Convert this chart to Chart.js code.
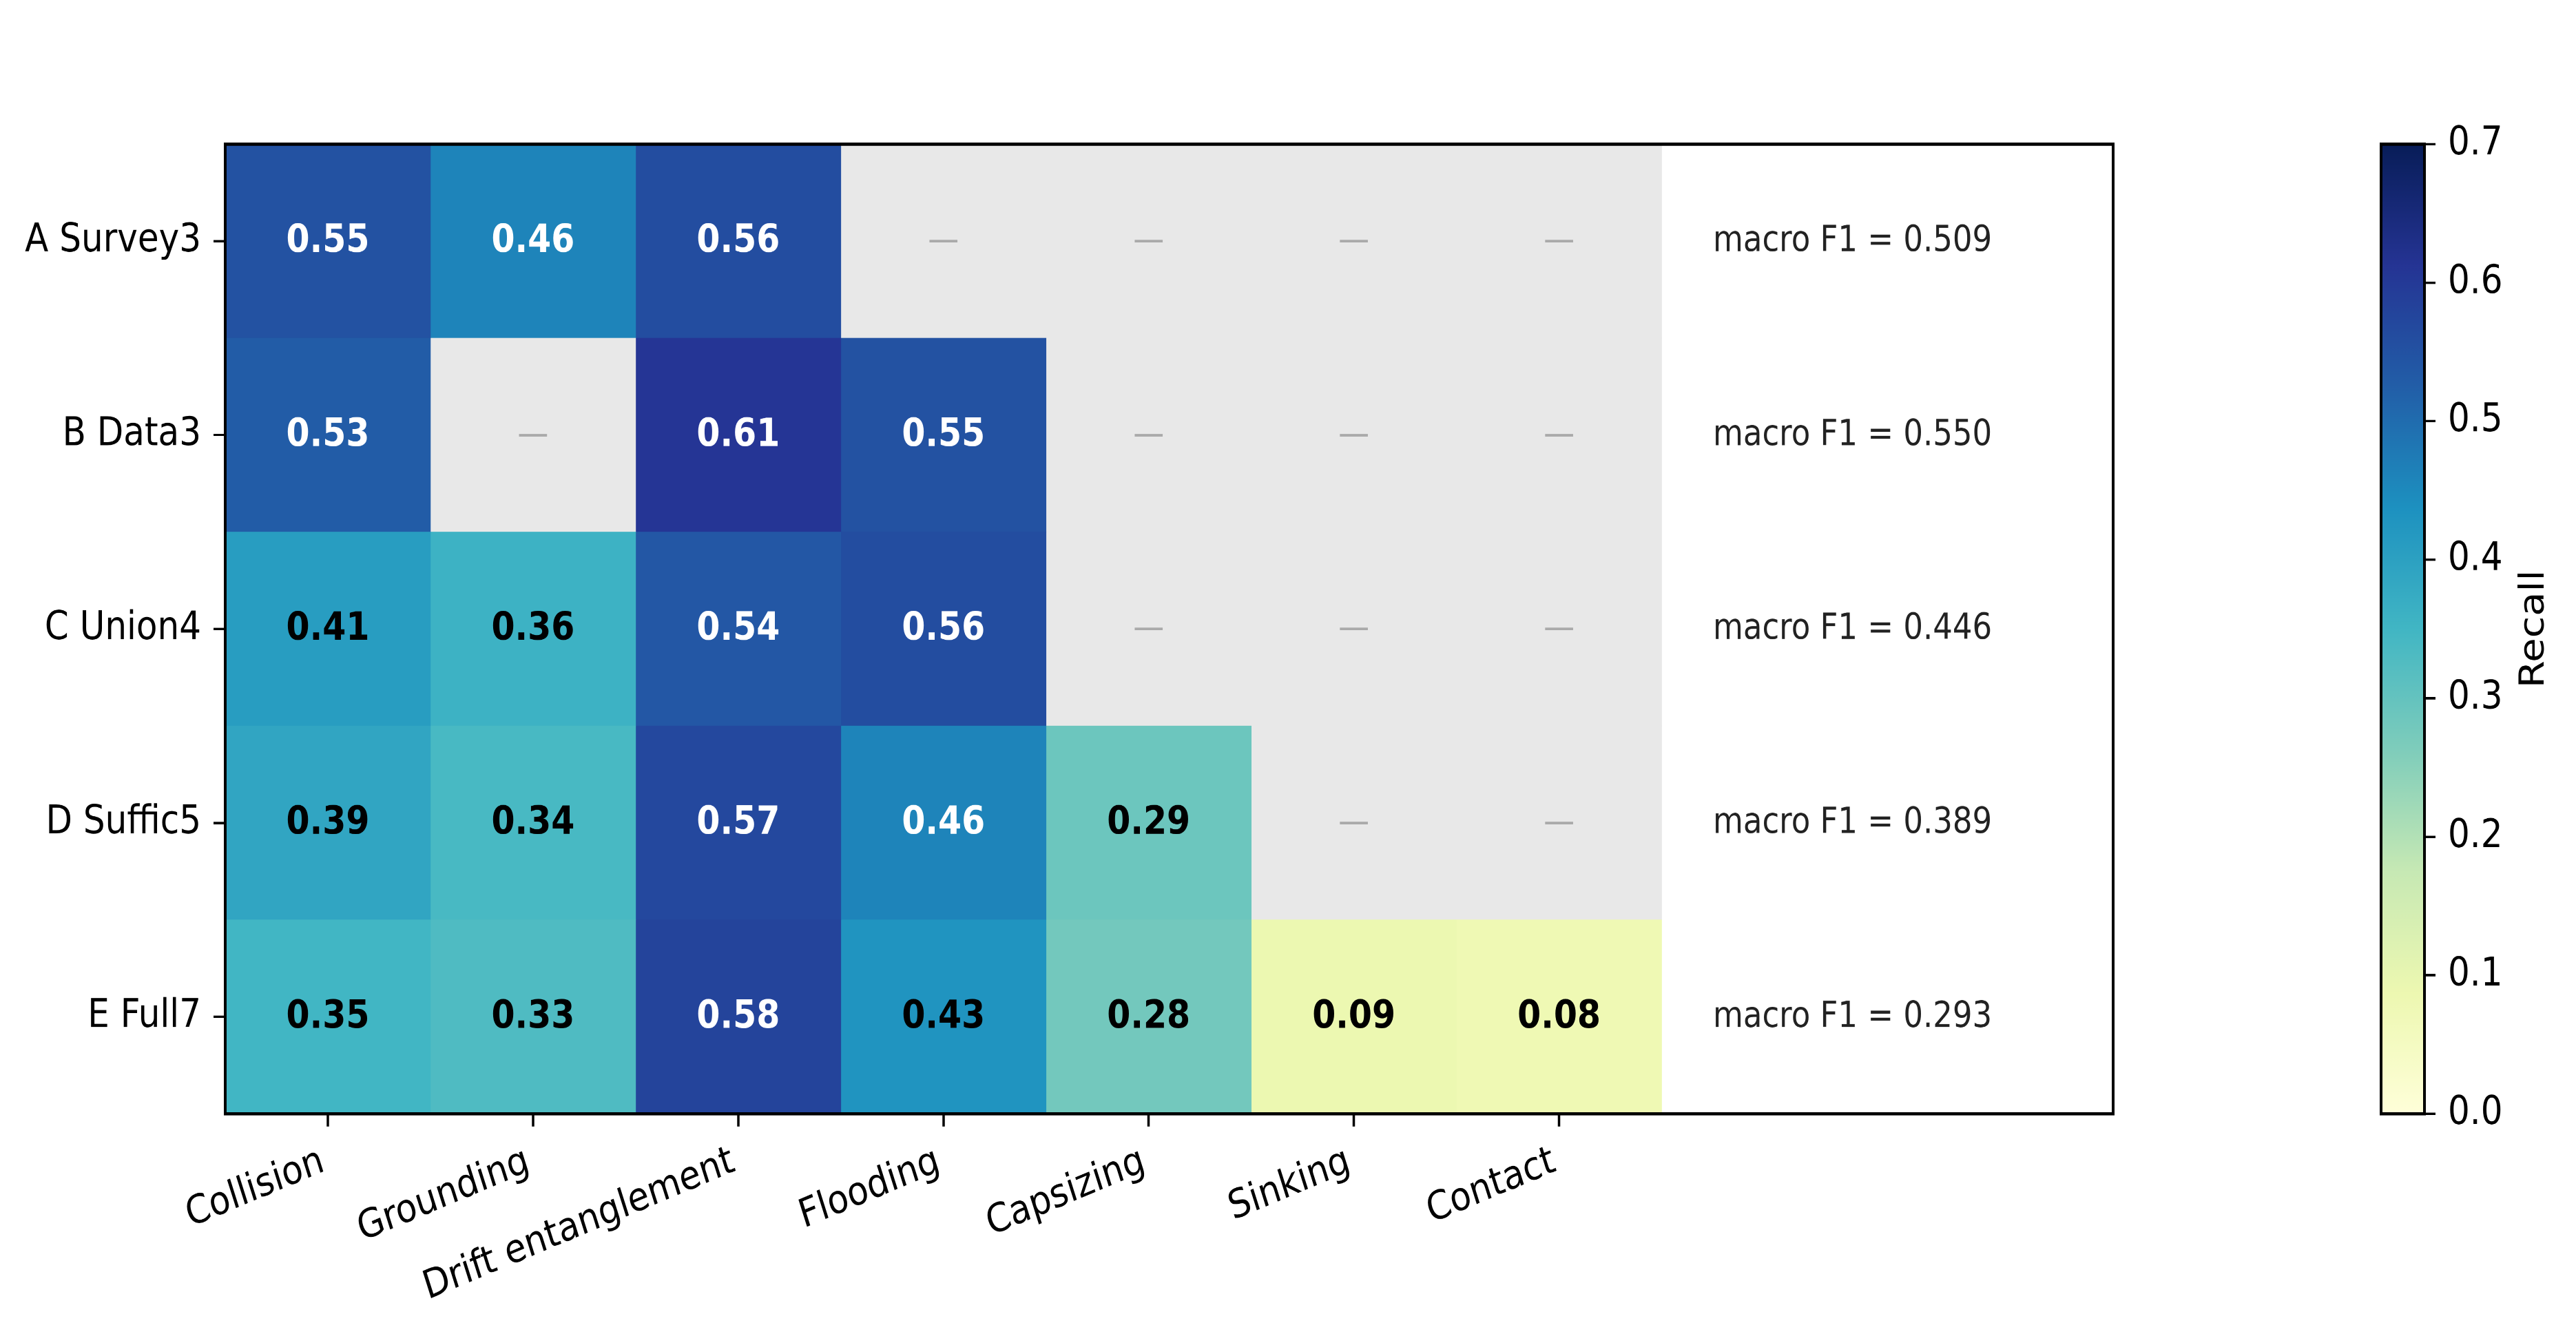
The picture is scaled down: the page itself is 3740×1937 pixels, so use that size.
<!DOCTYPE html>
<html>
<head>
<meta charset="utf-8">
<script src="https://cdn.jsdelivr.net/npm/chart.js@4.4.1/dist/chart.umd.min.js"></script>
<style>
html, body { margin: 0; padding: 0; background: #fff; }
#wrap { position: relative; width: 3740px; height: 1937px; overflow: hidden; }
#heat { position: absolute; left: 0; top: 0; }
#cbar { position: absolute; left: 3300px; top: 0; }
</style>
</head>
<body>
<div id="wrap">
  <canvas id="heat" width="3300" height="1684" style="width:3300px;height:1937px"></canvas>
  <canvas id="cbar" width="440" height="1684" style="width:440px;height:1937px"></canvas>
</div>
<script>
// rows (top to bottom) and columns of the heatmap
var rowLabels = ['A Survey3', 'B Data3', 'C Union4', 'D Suffic5', 'E Full7'];
var colLabels = ['Collision', 'Grounding', 'Drift entanglement', 'Flooding', 'Capsizing', 'Sinking', 'Contact'];

// recall per row, null = class not present
var recallA = [0.55, 0.46, 0.56, null, null, null, null];
var recallB = [0.53, null, 0.61, 0.55, null, null, null];
var recallC = [0.41, 0.36, 0.54, 0.56, null, null, null];
var recallD = [0.39, 0.34, 0.57, 0.46, 0.29, null, null];
var recallE = [0.35, 0.33, 0.58, 0.43, 0.28, 0.09, 0.08];
var recall = [recallA, recallB, recallC, recallD, recallE];

var macroF1 = [0.509, 0.550, 0.446, 0.389, 0.293];

var cbarTicks = [0, 0.1, 0.2, 0.3, 0.4, 0.5, 0.6, 0.7];
var cbarLabel = 'Recall';
var vmax = 0.7;

// YlGnBu
var ylgnbu = ['#ffffd9', '#edf8b1', '#c7e9b4', '#7fcdbb', '#41b6c4', '#1d91c0', '#225ea8', '#253494', '#081d58'];
var missingColor = '#e8e8e8';

// the original figure is a bit taller than wide, canvases are stretched by inline css
Chart.defaults.font.family = "'DejaVu Sans', sans-serif";
Chart.defaults.color = '#000';

function hex(c) {
    return [parseInt(c.substr(1, 2), 16), parseInt(c.substr(3, 2), 16), parseInt(c.substr(5, 2), 16)];
}

function cmap(v) {
    var t = Math.max(0, Math.min(1, v / vmax)) * (ylgnbu.length - 1);
    var i = Math.min(Math.floor(t), ylgnbu.length - 2);
    var f = t - i;
    var a = hex(ylgnbu[i]), b = hex(ylgnbu[i + 1]);
    var out = [];
    for (var k = 0; k < 3; k++) {
        out.push(Math.round(a[k] + (b[k] - a[k]) * f));
    }
    return 'rgb(' + out.join(',') + ')';
}

var datasets = colLabels.map(function (name, c) {
    return {
        label: name,
        data: rowLabels.map(function () { return [c - 0.5, c + 0.5]; }),
        backgroundColor: recall.map(function (row) {
            return row[c] == null ? missingColor : cmap(row[c]);
        }),
        borderWidth: 0,
        barPercentage: 1,
        categoryPercentage: 1,
        grouped: false
    };
});

var frame = {
    id: 'frame',
    afterDraw: function (chart) {
        var a = chart.chartArea, ctx = chart.ctx;
        ctx.save();
        ctx.strokeStyle = '#000';
        ctx.lineWidth = 4;
        ctx.strokeRect(a.left, a.top, a.right - a.left, a.bottom - a.top);
        ctx.restore();
    }
};

var cellText = {
    id: 'cellText',
    afterDatasetsDraw: function (chart) {
        var ctx = chart.ctx;
        var xs = chart.scales.x, ys = chart.scales.y;
        ctx.save();
        ctx.textBaseline = 'middle';
        for (var r = 0; r < recall.length; r++) {
            var y = ys.getPixelForValue(r);
            for (var c = 0; c < colLabels.length; c++) {
                var v = recall[r][c];
                var x = xs.getPixelForValue(c);
                ctx.textAlign = 'center';
                if (v == null) {
                    ctx.font = "45px 'DejaVu Sans'";
                    ctx.fillStyle = '#aaaaaa';
                    ctx.fillText('\u2014', x, y + 1);
                } else {
                    ctx.font = "bold 49px 'DejaVu Sans'";
                    ctx.fillStyle = v >= 0.45 ? '#ffffff' : '#000000';
                    ctx.fillText(v.toFixed(2), x, y + 1);
                }
            }
            ctx.textAlign = 'left';
            ctx.font = "45px 'DejaVu Sans'";
            ctx.fillStyle = '#222';
            ctx.fillText('macro F1 = ' + macroF1[r].toFixed(3), xs.getPixelForValue(6.75), y + 1);
        }
        ctx.restore();
    }
};

new Chart(document.getElementById('heat').getContext('2d'), {
    type: 'bar',
    data: { labels: rowLabels, datasets: datasets },
    options: {
        indexAxis: 'y',
        responsive: false,
        devicePixelRatio: 2,
        animation: false,
        layout: { padding: { left: 0, right: 232, top: 182, bottom: 0 } },
        scales: {
            x: {
                type: 'linear',
                min: -0.5,
                max: 8.7,
                afterBuildTicks: function (s) {
                    s.ticks = colLabels.map(function (_, i) { return { value: i }; });
                },
                ticks: {
                    autoSkip: false,
                    minRotation: 20,
                    maxRotation: 20,
                    padding: 15,
                    labelOffset: -7,
                    font: { size: 50 },
                    callback: function (v, i) { return colLabels[i]; }
                },
                grid: { drawOnChartArea: false, drawTicks: true, tickLength: 16, tickWidth: 3.5, tickColor: '#000' },
                border: { display: true, color: '#000', width: 4 },
                afterFit: function (s) { s.height = 278; }
            },
            y: {
                type: 'category',
                offset: true,
                ticks: { padding: 18, font: { size: 50 } },
                grid: { offset: false, drawOnChartArea: false, drawTicks: true, tickLength: 17, tickWidth: 3, tickColor: '#000' },
                border: { display: true, color: '#000', width: 4 },
                afterFit: function (s) { s.width = 327; }
            }
        },
        plugins: { legend: { display: false }, tooltip: { enabled: false } }
    },
    plugins: [cellText, frame]
});

var cbarTitle = {
    id: 'cbarTitle',
    afterDraw: function (chart) {
        var a = chart.chartArea, ctx = chart.ctx;
        ctx.save();
        ctx.translate(380, (a.top + a.bottom) / 2);
        ctx.rotate(-Math.PI / 2);
        ctx.font = "50px 'DejaVu Sans'";
        ctx.fillStyle = '#000';
        ctx.textAlign = 'center';
        ctx.textBaseline = 'middle';
        ctx.fillText(cbarLabel, 0, 0);
        ctx.restore();
    }
};

new Chart(document.getElementById('cbar').getContext('2d'), {
    type: 'bar',
    data: {
        labels: [cbarLabel],
        datasets: [{
            data: [[0, vmax]],
            backgroundColor: function (ctx) {
                var a = ctx.chart.chartArea;
                if (!a) return ylgnbu[4];
                var g = ctx.chart.ctx.createLinearGradient(0, a.bottom, 0, a.top);
                ylgnbu.forEach(function (c, i) { g.addColorStop(i / (ylgnbu.length - 1), c); });
                return g;
            },
            borderWidth: 0,
            barPercentage: 1,
            categoryPercentage: 1
        }]
    },
    options: {
        responsive: false,
        devicePixelRatio: 2,
        animation: false,
        layout: { padding: { left: 157, right: 0, top: 182, bottom: 278 } },
        scales: {
            x: { display: false },
            y: {
                position: 'right',
                min: 0,
                max: vmax,
                afterBuildTicks: function (s) {
                    s.ticks = cbarTicks.map(function (v) { return { value: v }; });
                },
                ticks: {
                    padding: 18,
                    font: { size: 50 },
                    callback: function (v) { return v.toFixed(1); }
                },
                grid: { drawOnChartArea: false, drawTicks: true, tickLength: 16, tickWidth: 3, tickColor: '#000' },
                border: { display: true, color: '#000', width: 4 },
                afterFit: function (s) { s.width = 220; }
            }
        },
        plugins: { legend: { display: false }, tooltip: { enabled: false } }
    },
    plugins: [frame, cbarTitle]
});
</script>
</body>
</html>
